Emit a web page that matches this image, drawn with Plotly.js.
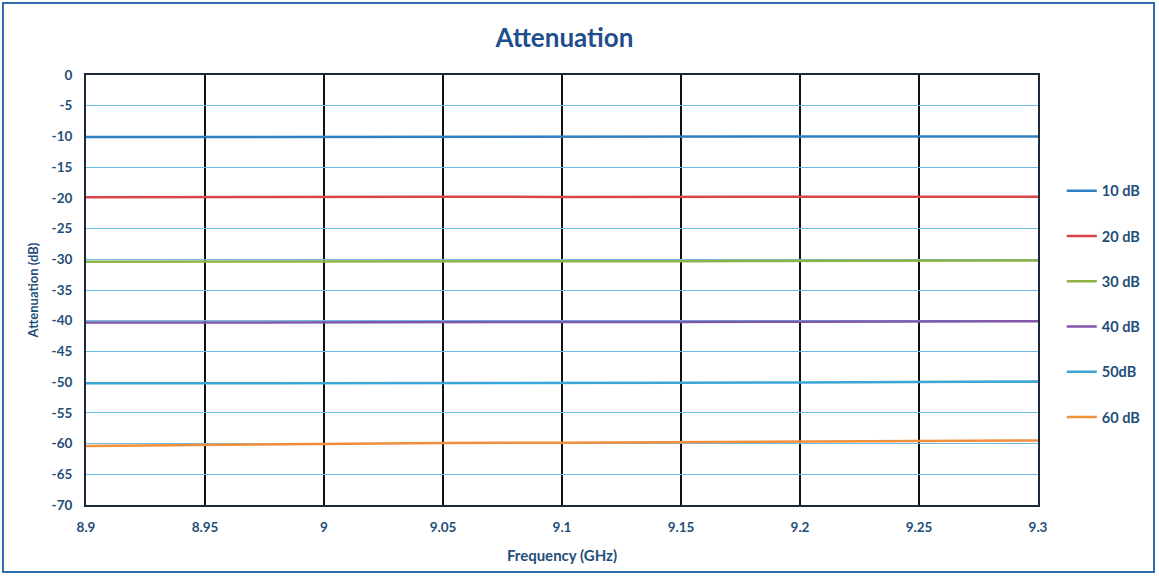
<!DOCTYPE html>
<html><head><meta charset="utf-8">
<script src="https://cdn.plot.ly/plotly-3.0.1.min.js"></script>
<style>
html,body{margin:0;padding:0;background:#fff;}
#frame{position:absolute;left:2px;top:2px;width:1153px;height:571px;border:2px solid #2E6DB0;box-sizing:border-box;}
#chart{position:absolute;left:0;top:0;width:1159px;height:577px;}
</style>
</head><body>
<div id="chart"></div>
<div id="frame"></div>
<script>
const freq = [8.9, 8.95, 9.0, 9.05, 9.1, 9.15, 9.2, 9.25, 9.3];
const att10 = [-10.1, -10.1, -10.05, -10.1, -10.1, -10.05, -10.05, -10.0, -10.0];
const att20 = [-19.9, -19.85, -19.8, -19.8, -19.85, -19.85, -19.8, -19.8, -19.8];
const att30 = [-30.4, -30.35, -30.35, -30.3, -30.3, -30.3, -30.3, -30.25, -30.2];
const att40 = [-40.3, -40.3, -40.25, -40.25, -40.2, -40.2, -40.15, -40.1, -40.1];
const att50 = [-50.2, -50.2, -50.15, -50.1, -50.1, -50.1, -50.05, -50.0, -49.9];
const att60 = [-60.4, -60.2, -60.0, -59.9, -59.85, -59.8, -59.7, -59.6, -59.5];
const seriesNames = ["10 dB", "20 dB", "30 dB", "40 dB", "50dB", "60 dB"];
const seriesColors = ["#2F7FC1", "#D9434B", "#8DB347", "#7E57A8", "#3AA6D6", "#F08F3C"];
const seriesData = [att10, att20, att30, att40, att50, att60];
const xTickVals = [8.9, 8.95, 9, 9.05, 9.1, 9.15, 9.2, 9.25, 9.3];
const xTickText = ["8.9", "8.95", "9", "9.05", "9.1", "9.15", "9.2", "9.25", "9.3"];
const yTickVals = [0, -5, -10, -15, -20, -25, -30, -35, -40, -45, -50, -55, -60, -65, -70];
const yTickText = ["0", "-5", "-10", "-15", "-20", "-25", "-30", "-35", "-40", "-45", "-50", "-55", "-60", "-65", "-70"];

const traces = seriesData.map((y, i) => ({
  x: freq, y: y, type: "scatter", mode: "lines", name: "<b>" + seriesNames[i] + "</b>",
  legendgroup: "g" + i,
  line: {color: seriesColors[i], width: 2.5}
}));

const tickColor = "#1F4E79";
const layout = {
  width: 1159, height: 577,
  margin: {l: 86, r: 121, t: 75, b: 72},
  paper_bgcolor: "#ffffff", plot_bgcolor: "#ffffff",
  font: {family: "Lato, 'Open Sans', sans-serif", color: tickColor},
  title: {text: "<b>Attenuation</b>", x: 0.487, xanchor: "center", y: 0.935, yanchor: "middle",
          font: {size: 26, color: "#1F4E8C", family: "Lato, 'Open Sans', sans-serif"}},
  xaxis: {
    range: [8.9, 9.3], tickvals: xTickVals,
    ticktext: xTickText.map(t => "<b>" + t + "</b>"),
    showgrid: true, gridcolor: "#111111", gridwidth: 2,
    showline: true, linecolor: "#1a2a3a", linewidth: 2, mirror: true,
    zeroline: false, ticks: "outside", ticklen: 9, tickcolor: "rgba(0,0,0,0)",
    tickfont: {size: 13.5, color: tickColor},
    title: {text: "<b>Frequency (GHz)</b>", standoff: 16, font: {size: 15, color: tickColor}}
  },
  yaxis: {
    range: [-70, 0], tickvals: yTickVals,
    ticktext: yTickText.map(t => "<b>" + t + "</b>"),
    showgrid: true, gridcolor: "#6EBBE6", gridwidth: 1,
    showline: true, linecolor: "#1a2a3a", linewidth: 2, mirror: true,
    zeroline: false, ticks: "outside", ticklen: 9, tickcolor: "rgba(0,0,0,0)",
    tickfont: {size: 13.5, color: tickColor},
    title: {text: "<b>Attenuation (dB)</b>", standoff: 10, font: {size: 13, color: tickColor}}
  },
  legend: {
    x: 1.025, xanchor: "left", y: 0.768, yanchor: "top",
    font: {size: 14.5, color: tickColor},
    tracegroupgap: 23.4, itemwidth: 30, bgcolor: "rgba(0,0,0,0)"
  },
  showlegend: true
};

Plotly.newPlot("chart", traces, layout, {displayModeBar: false, staticPlot: true});
</script>
</body></html>
